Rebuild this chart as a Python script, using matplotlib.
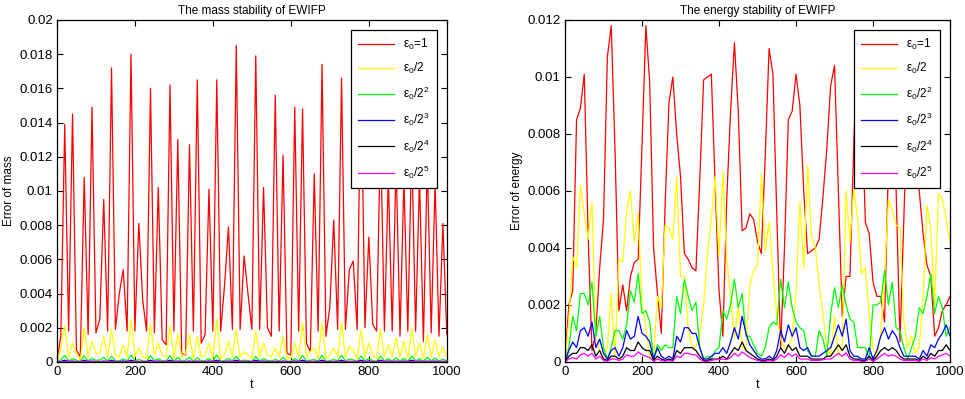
import matplotlib
matplotlib.use('Agg')
import matplotlib.pyplot as plt
from matplotlib.ticker import FuncFormatter
import numpy as np

plt.rcParams['font.family'] = ['Liberation Sans', 'DejaVu Sans']
plt.rcParams['mathtext.default'] = 'regular'

# time axis: one sample every 10 units
t = list(range(0, 1001, 10))

labels = ['ε$_0$=1', 'ε$_0$/2', 'ε$_0$/2$^2$', 'ε$_0$/2$^3$', 'ε$_0$/2$^4$', 'ε$_0$/2$^5$']
colors = ['#ff0000', '#ffff00', '#00ff00', '#0000ff', '#000000', '#ff00ff']

# ---------------- mass error ----------------
mass_e1 = [0.0, 0.0015, 0.0139, 0.0018, 0.0145, 0.0007, 0.0003, 0.0108, 0.0016, 0.0149,
           0.0017, 0.0025, 0.0095, 0.0018, 0.0172, 0.0019, 0.0040, 0.0054, 0.0018, 0.0180,
           0.0018, 0.0081, 0.0036, 0.0018, 0.0160, 0.0017, 0.0102, 0.0013, 0.0010, 0.0162,
           0.0018, 0.0130, 0.0005, 0.0004, 0.0127, 0.0018, 0.0165, 0.0011, 0.0016, 0.0101,
           0.0018, 0.0165, 0.0018, 0.0045, 0.0079, 0.0019, 0.0185, 0.0019, 0.0062, 0.0040,
           0.0019, 0.0179, 0.0019, 0.0102, 0.0020, 0.0015, 0.0156, 0.0018, 0.0121, 0.0005,
           0.0004, 0.0149, 0.0018, 0.0148, 0.0011, 0.0006, 0.0110, 0.0018, 0.0174, 0.0015,
           0.0032, 0.0083, 0.0019, 0.0166, 0.0019, 0.0054, 0.0059, 0.0019, 0.0172, 0.0020,
           0.0073, 0.0022, 0.0018, 0.0135, 0.0018, 0.0108, 0.0018, 0.0117, 0.0015, 0.0107,
           0.0018, 0.0128, 0.0018, 0.0108, 0.0012, 0.0117, 0.0017, 0.0105, 0.0015, 0.0081,
           0.0016]
mass_e2 = [0.0, 0.0008, 0.0021, 0.0003, 0.0011, 0.0005, 0.0001, 0.0020, 0.0003, 0.0012,
           0.0005, 0.0005, 0.0015, 0.0003, 0.0019, 0.0004, 0.0003, 0.0010, 0.0003, 0.0025,
           0.0003, 0.0008, 0.0003, 0.0002, 0.0022, 0.0004, 0.0011, 0.0004, 0.0003, 0.0021,
           0.0002, 0.0016, 0.0003, 0.0005, 0.0016, 0.0002, 0.0015, 0.0003, 0.0004, 0.0011,
           0.0002, 0.0025, 0.0002, 0.0004, 0.0012, 0.0003, 0.0019, 0.0003, 0.0006, 0.0004,
           0.0002, 0.0018, 0.0003, 0.0011, 0.0004, 0.0003, 0.0008, 0.0003, 0.0015, 0.0002,
           0.0002, 0.0011, 0.0003, 0.0023, 0.0003, 0.0006, 0.0008, 0.0002, 0.0023, 0.0002,
           0.0004, 0.0008, 0.0003, 0.0023, 0.0003, 0.0009, 0.0007, 0.0002, 0.0019, 0.0003,
           0.0011, 0.0004, 0.0002, 0.0019, 0.0003, 0.0010, 0.0003, 0.0014, 0.0003, 0.0012,
           0.0002, 0.0020, 0.0003, 0.0011, 0.0002, 0.0016, 0.0003, 0.0013, 0.0003, 0.0009,
           0.0003]
mass_e4 = [0.0, 0.00012, 0.00038, 0.00006, 0.00018, 0.0001, 0.00003, 0.00036, 0.00006, 0.0002,
           0.0001, 0.0001, 0.00026, 0.00006, 0.00033, 0.00008, 0.00006, 0.00017, 0.00006, 0.0004,
           0.00006, 0.00014, 0.00006, 0.00004, 0.00036, 0.00008, 0.00018, 0.00008, 0.00006, 0.00035,
           0.00004, 0.00026, 0.00006, 0.0001, 0.00027, 0.00004, 0.00025, 0.00006, 0.00008, 0.00019,
           0.00004, 0.0004, 0.00004, 0.00008, 0.0002, 0.00006, 0.00032, 0.00006, 0.0001, 0.00008,
           0.00004, 0.00031, 0.00006, 0.00019, 0.00008, 0.00006, 0.00014, 0.00006, 0.00026, 0.00004,
           0.00004, 0.00019, 0.00006, 0.00038, 0.00006, 0.0001, 0.00014, 0.00004, 0.00038, 0.00004,
           0.00008, 0.00014, 0.00006, 0.00038, 0.00006, 0.00015, 0.00012, 0.00004, 0.00033, 0.00006,
           0.00019, 0.00008, 0.00004, 0.00033, 0.00006, 0.00017, 0.00006, 0.00024, 0.00006, 0.0002,
           0.00004, 0.00034, 0.00006, 0.00019, 0.00004, 0.00027, 0.00006, 0.00022, 0.00006, 0.00015,
           0.00006]
mass_e8 = [0.0, 0.00002, 0.0001, 0.00002, 0.00005, 0.00002, 0.00001, 0.0001, 0.00002, 0.00005,
           0.00002, 0.00002, 0.00005, 0.00002, 0.0001, 0.00002, 0.00002, 0.00005, 0.00002, 0.0001,
           0.00002, 0.00003, 0.00002, 0.00002, 0.0001, 0.00002, 0.00005, 0.00002, 0.00002, 0.0001,
           0.00002, 0.00005, 0.00002, 0.00002, 0.00005, 0.00002, 0.00005, 0.00002, 0.00002, 0.00005,
           0.00002, 0.0001, 0.00002, 0.00002, 0.00005, 0.00002, 0.0001, 0.00002, 0.00003, 0.00002,
           0.00002, 0.0001, 0.00002, 0.00005, 0.00002, 0.00002, 0.00003, 0.00002, 0.00005, 0.00002,
           0.00002, 0.00005, 0.00002, 0.0001, 0.00002, 0.00003, 0.00003, 0.00002, 0.0001, 0.00002,
           0.00002, 0.00003, 0.00002, 0.0001, 0.00002, 0.00003, 0.00003, 0.00002, 0.0001, 0.00002,
           0.00005, 0.00002, 0.00002, 0.0001, 0.00002, 0.00005, 0.00002, 0.00005, 0.00002, 0.00005,
           0.00002, 0.0001, 0.00002, 0.00005, 0.00002, 0.00005, 0.00002, 0.00005, 0.00002, 0.00003,
           0.00002]
mass_e16 = [0.0, 0.00001, 0.00004, 0.00001, 0.00002, 0.00001, 0.0, 0.00004, 0.00001, 0.00002,
            0.00001, 0.00001, 0.00002, 0.00001, 0.00004, 0.00001, 0.00001, 0.00002, 0.00001, 0.00004,
            0.00001, 0.00001, 0.00001, 0.00001, 0.00004, 0.00001, 0.00002, 0.00001, 0.00001, 0.00004,
            0.00001, 0.00002, 0.00001, 0.00001, 0.00002, 0.00001, 0.00002, 0.00001, 0.00001, 0.00002,
            0.00001, 0.00004, 0.00001, 0.00001, 0.00002, 0.00001, 0.00004, 0.00001, 0.00001, 0.00001,
            0.00001, 0.00004, 0.00001, 0.00002, 0.00001, 0.00001, 0.00001, 0.00001, 0.00002, 0.00001,
            0.00001, 0.00002, 0.00001, 0.00004, 0.00001, 0.00001, 0.00001, 0.00001, 0.00004, 0.00001,
            0.00001, 0.00001, 0.00001, 0.00004, 0.00001, 0.00001, 0.00001, 0.00001, 0.00004, 0.00001,
            0.00002, 0.00001, 0.00001, 0.00004, 0.00001, 0.00002, 0.00001, 0.00002, 0.00001, 0.00002,
            0.00001, 0.00004, 0.00001, 0.00002, 0.00001, 0.00002, 0.00001, 0.00002, 0.00001, 0.00001,
            0.00001]
mass_e32 = [0.0, 0.0, 0.00002, 0.0, 0.00001, 0.0, 0.0, 0.00002, 0.0, 0.00001,
            0.0, 0.0, 0.00001, 0.0, 0.00002, 0.0, 0.0, 0.00001, 0.0, 0.00002,
            0.0, 0.00001, 0.0, 0.0, 0.00002, 0.0, 0.00001, 0.0, 0.0, 0.00002,
            0.0, 0.00001, 0.0, 0.0, 0.00001, 0.0, 0.00001, 0.0, 0.0, 0.00001,
            0.0, 0.00002, 0.0, 0.0, 0.00001, 0.0, 0.00002, 0.0, 0.00001, 0.0,
            0.0, 0.00002, 0.0, 0.00001, 0.0, 0.0, 0.00001, 0.0, 0.00001, 0.0,
            0.0, 0.00001, 0.0, 0.00002, 0.0, 0.00001, 0.00001, 0.0, 0.00002, 0.0,
            0.0, 0.00001, 0.0, 0.00002, 0.0, 0.00001, 0.00001, 0.0, 0.00002, 0.0,
            0.00001, 0.0, 0.0, 0.00002, 0.0, 0.00001, 0.0, 0.00001, 0.0, 0.00001,
            0.0, 0.00002, 0.0, 0.00001, 0.0, 0.00001, 0.0, 0.00001, 0.0, 0.00001,
            0.0]

# ---------------- energy error ----------------
energy_e1 = [0.0, 0.0020, 0.0025, 0.0085, 0.0089, 0.0101, 0.0045, 0.0004, 0.0010, 0.0033,
             0.0050, 0.0107, 0.0118, 0.0074, 0.0018, 0.0027, 0.0018, 0.0030, 0.0035, 0.0036,
             0.0076, 0.0118, 0.0098, 0.0040, 0.0024, 0.0010, 0.0055, 0.0091, 0.0100, 0.0080,
             0.0065, 0.0038, 0.0036, 0.0033, 0.0032, 0.0064, 0.0099, 0.0100, 0.0101, 0.0062,
             0.0025, 0.0009, 0.0057, 0.0088, 0.0112, 0.0088, 0.0046, 0.0047, 0.0052, 0.0050,
             0.0042, 0.0038, 0.0072, 0.0110, 0.0101, 0.0052, 0.0005, 0.0040, 0.0085, 0.0088,
             0.0101, 0.0090, 0.0060, 0.0038, 0.0039, 0.0040, 0.0043, 0.0058, 0.0075, 0.0097,
             0.0104, 0.0060, 0.0016, 0.0030, 0.0030, 0.0076, 0.0115, 0.0095, 0.0049, 0.0045,
             0.0028, 0.0023, 0.0023, 0.0014, 0.0070, 0.0105, 0.0060, 0.0007, 0.0050, 0.0095,
             0.0107, 0.0085, 0.0060, 0.0045, 0.0034, 0.0030, 0.0009, 0.0012, 0.0018, 0.0020,
             0.0023]
energy_e2 = [0.0, 0.0015, 0.0037, 0.0033, 0.0062, 0.0052, 0.0043, 0.0056, 0.0009, 0.0004,
             0.0001, 0.0005, 0.0024, 0.0002, 0.0036, 0.0035, 0.0053, 0.0060, 0.0042, 0.0052,
             0.0020, 0.0012, 0.0001, 0.0001, 0.0023, 0.0019, 0.0048, 0.0047, 0.0043, 0.0065,
             0.0030, 0.0030, 0.0012, 0.0005, 0.0005, 0.0010, 0.0020, 0.0038, 0.0050, 0.0065,
             0.0037, 0.0067, 0.0036, 0.0023, 0.0008, 0.0020, 0.0005, 0.0005, 0.0027, 0.0032,
             0.0034, 0.0066, 0.0039, 0.0049, 0.0032, 0.0016, 0.0008, 0.0005, 0.0005, 0.0009,
             0.0025, 0.0056, 0.0033, 0.0069, 0.0044, 0.0040, 0.0027, 0.0017, 0.0005, 0.0002,
             0.0016, 0.0002, 0.0005, 0.0060, 0.0042, 0.0061, 0.0050, 0.0031, 0.0033, 0.0017,
             0.0005, 0.0001, 0.0010, 0.0030, 0.0057, 0.0053, 0.0048, 0.0047, 0.0014, 0.0005,
             0.0009, 0.0003, 0.0005, 0.0023, 0.0055, 0.0047, 0.0020, 0.0059, 0.0057, 0.0050,
             0.0042]
energy_e4 = [0.0, 0.0005, 0.0016, 0.0011, 0.0024, 0.0024, 0.0020, 0.0028, 0.0009, 0.0016,
             0.0005, 0.0001, 0.0005, 0.0011, 0.0011, 0.0008, 0.0013, 0.0025, 0.0021, 0.0031,
             0.0017, 0.0018, 0.0014, 0.0001, 0.0006, 0.0004, 0.0006, 0.0005, 0.0005, 0.0023,
             0.0017, 0.0029, 0.0023, 0.0018, 0.0021, 0.0005, 0.0001, 0.0002, 0.0001, 0.0004,
             0.0005, 0.0018, 0.0015, 0.0020, 0.0029, 0.0019, 0.0024, 0.0009, 0.0009, 0.0006,
             0.0003, 0.0002, 0.0005, 0.0012, 0.0014, 0.0013, 0.0029, 0.0019, 0.0028, 0.0019,
             0.0014, 0.0012, 0.0011, 0.0004, 0.0002, 0.0002, 0.0011, 0.0008, 0.0002, 0.0017,
             0.0026, 0.0019, 0.0027, 0.0020, 0.0015, 0.0014, 0.0005, 0.0005, 0.0005, 0.0001,
             0.0020, 0.0020, 0.0021, 0.0032, 0.0020, 0.0028, 0.0012, 0.0011, 0.0005, 0.0001,
             0.0005, 0.0009, 0.0019, 0.0017, 0.0023, 0.0031, 0.0017, 0.0023, 0.0019, 0.0009,
             0.0012]
energy_e8 = [0.0, 0.0004, 0.0007, 0.0005, 0.0011, 0.0012, 0.0009, 0.0014, 0.0005, 0.0008,
             0.0003, 0.0001, 0.0004, 0.0005, 0.0002, 0.0005, 0.0011, 0.0008, 0.0009, 0.0016,
             0.0010, 0.0009, 0.0007, 0.0001, 0.0005, 0.0002, 0.0001, 0.0002, 0.0001, 0.0009,
             0.0007, 0.0012, 0.0012, 0.0010, 0.0010, 0.0005, 0.0001, 0.0001, 0.0002, 0.0003,
             0.0003, 0.0005, 0.0003, 0.0007, 0.0012, 0.0008, 0.0016, 0.0010, 0.0006, 0.0004,
             0.0002, 0.0001, 0.0001, 0.0002, 0.0001, 0.0004, 0.0011, 0.0007, 0.0013, 0.0009,
             0.0012, 0.0005, 0.0004, 0.0005, 0.0002, 0.0002, 0.0002, 0.0003, 0.0004, 0.0005,
             0.0009, 0.0013, 0.0009, 0.0015, 0.0004, 0.0002, 0.0002, 0.0001, 0.0001, 0.0005,
             0.0001, 0.0004, 0.0009, 0.0012, 0.0008, 0.0011, 0.0009, 0.0005, 0.0002, 0.0002,
             0.0002, 0.0002, 0.0001, 0.0004, 0.0002, 0.0006, 0.0005, 0.0008, 0.0010, 0.0013,
             0.0009]
energy_e16 = [0.0, 0.0002, 0.0003, 0.0003, 0.0005, 0.0005, 0.0004, 0.0006, 0.0002, 0.0004,
              0.0001, 0.00005, 0.0002, 0.0002, 0.0001, 0.0002, 0.0005, 0.0004, 0.0004, 0.0007,
              0.0005, 0.0004, 0.0004, 0.00005, 0.0002, 0.0001, 0.00005, 0.0001, 0.00005, 0.0004,
              0.0003, 0.0005, 0.0005, 0.0005, 0.0004, 0.0002, 0.00005, 0.00005, 0.0001, 0.0001,
              0.0001, 0.0002, 0.0001, 0.0003, 0.0005, 0.0004, 0.0007, 0.0004, 0.0003, 0.0002,
              0.0001, 0.00005, 0.00005, 0.0001, 0.00005, 0.0002, 0.0005, 0.0003, 0.0006, 0.0004,
              0.0005, 0.0002, 0.0002, 0.0002, 0.0001, 0.0001, 0.0001, 0.0001, 0.0002, 0.0002,
              0.0004, 0.0006, 0.0004, 0.0006, 0.0002, 0.0001, 0.0001, 0.00005, 0.00005, 0.0002,
              0.00005, 0.0002, 0.0004, 0.0005, 0.0004, 0.0005, 0.0004, 0.0002, 0.0001, 0.0001,
              0.0001, 0.0001, 0.00005, 0.0002, 0.0001, 0.0003, 0.0002, 0.0004, 0.0004, 0.0006,
              0.0004]
energy_e32 = [0.0, 0.0001, 0.00015, 0.0001, 0.00025, 0.0003, 0.0002, 0.0003, 0.0001, 0.0002,
              0.00005, 0.00002, 0.0001, 0.0001, 0.00005, 0.0001, 0.00025, 0.0002, 0.0002, 0.00035,
              0.00025, 0.0002, 0.00015, 0.00002, 0.0001, 0.00005, 0.00002, 0.00005, 0.00002, 0.0002,
              0.00015, 0.0003, 0.0003, 0.00025, 0.00025, 0.0001, 0.00002, 0.00002, 0.00005, 0.00008,
              0.00008, 0.0001, 0.00008, 0.00015, 0.0003, 0.0002, 0.00035, 0.00025, 0.00015, 0.0001,
              0.00005, 0.00002, 0.00002, 0.00005, 0.00002, 0.0001, 0.00025, 0.00015, 0.0003, 0.0002,
              0.00028, 0.0001, 0.0001, 0.0001, 0.00005, 0.00005, 0.00005, 0.00008, 0.0001, 0.0001,
              0.0002, 0.0003, 0.0002, 0.00032, 0.0001, 0.00005, 0.00005, 0.00002, 0.00002, 0.0001,
              0.00002, 0.0001, 0.0002, 0.0003, 0.0002, 0.00025, 0.0002, 0.0001, 0.00005, 0.00005,
              0.00005, 0.00005, 0.00002, 0.0001, 0.00005, 0.00015, 0.0001, 0.0002, 0.00025, 0.0003,
              0.0002]

mass_series = [mass_e1, mass_e2, mass_e4, mass_e8, mass_e16, mass_e32]
energy_series = [energy_e1, energy_e2, energy_e4, energy_e8, energy_e16, energy_e32]


def style_axes(ax, ymax, ystep):
    """MATLAB-like look: boxed axes, inward ticks on all sides."""
    ax.set_xlim(0, 1000)
    ax.set_ylim(0, ymax)
    ax.set_xticks(np.arange(0, 1001, 200))
    ax.set_yticks(np.arange(0, ymax + ystep / 2, ystep))
    ax.yaxis.set_major_formatter(FuncFormatter(lambda v, p: '{:g}'.format(round(v, 6))))
    ax.tick_params(direction='in', top=True, right=True, length=4, width=0.8,
                   labelsize=9.5, pad=3)
    for s in ax.spines.values():
        s.set_linewidth(0.9)


fig = plt.figure(figsize=(9.65, 3.99), dpi=100)
ax1 = fig.add_axes([0.059, 0.093, 0.404, 0.857])
ax2 = fig.add_axes([0.5855, 0.093, 0.399, 0.857])

for ax, series, ymax, ystep, title, ylab in [
        (ax1, mass_series, 0.02, 0.002, 'The mass stability of EWIFP', 'Error of mass'),
        (ax2, energy_series, 0.012, 0.002, 'The energy stability of EWIFP', 'Error of energy')]:
    for vals, c, lab in zip(series, colors, labels):
        ax.plot(t, vals, color=c, linewidth=0.9, label=lab)
    style_axes(ax, ymax, ystep)
    ax.set_title(title, fontsize=8.5, pad=4)
    ax.set_xlabel('t', fontsize=9, labelpad=1)
    ax.set_ylabel(ylab, fontsize=8.5, labelpad=3)
    leg = ax.legend(loc='upper right', fontsize=8.5, frameon=True, fancybox=False,
                    framealpha=1, edgecolor='black', handlelength=3.0,
                    labelspacing=0.75, borderpad=0.6, borderaxespad=0.85,
                    handletextpad=0.8)
    leg.get_frame().set_linewidth(0.9)

fig.savefig('out.png', dpi=100)
